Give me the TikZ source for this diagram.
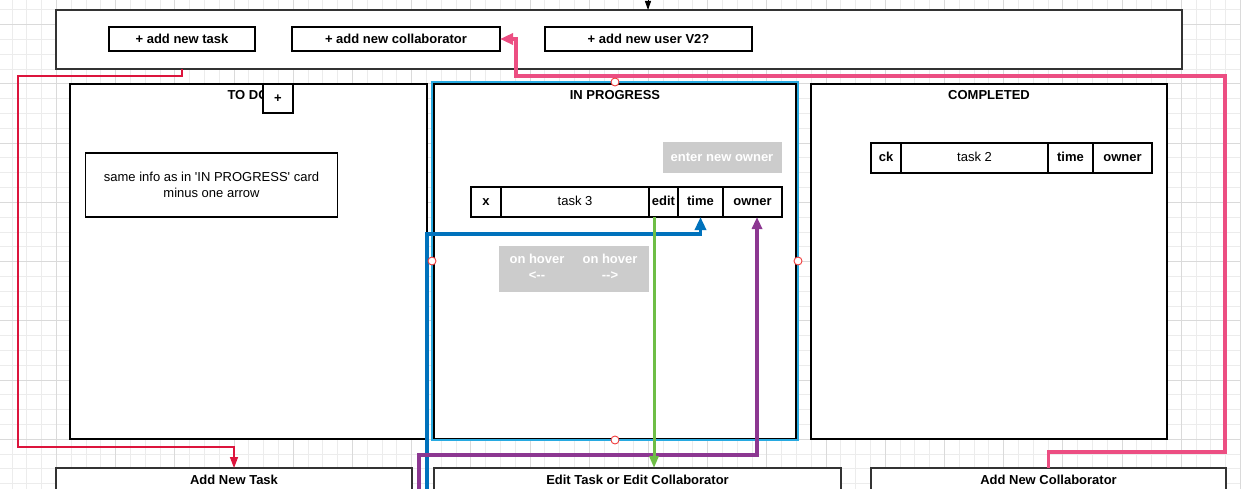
\documentclass[tikz,border=0pt]{standalone}
\usepackage{fontspec}
\setmainfont{Liberation Sans}[Ligatures=TeXOff]
\usetikzlibrary{arrows.meta}

\definecolor{gridminor}{RGB}{236,236,236}
\definecolor{gridmajor}{RGB}{218,218,218}
\definecolor{linkred}{RGB}{220,20,60}
\definecolor{linkpink}{RGB}{236,78,130}
\definecolor{selblue}{RGB}{40,170,225}
\definecolor{linkblue}{RGB}{0,114,188}
\definecolor{linkgreen}{RGB}{110,190,70}
\definecolor{linkpurple}{RGB}{140,55,145}
\definecolor{hintgray}{RGB}{204,204,204}
\definecolor{handlered}{RGB}{240,60,60}
\definecolor{framegray}{RGB}{51,51,51}

\newcommand{\boardfont}{\fontsize{13}{16}\selectfont}

\begin{document}
\begin{tikzpicture}[x=1pt, y=-1pt,
  panel/.style={draw=black, line width=1.6pt, fill=white, inner sep=0pt, outer sep=0pt},
  cell/.style={panel, font=\boardfont\bfseries, text height=9.5pt, text depth=2.5pt, minimum height=30pt, anchor=west},
  title/.style={font=\boardfont\bfseries, inner sep=0pt},
  hint/.style={fill=hintgray, inner sep=0pt},
  hinttext/.style={font=\boardfont\bfseries, text=white, inner sep=0pt, align=center},
  handle/.style={draw=handlered, fill=white, line width=0.9pt},
  redlink/.style={draw=linkred, line width=1.4pt, -{Triangle[length=11pt,width=8pt]}},
  pinklink/.style={draw=linkpink, line width=3.2pt, -{Triangle[length=13pt,width=11pt]}},
  bluelink/.style={draw=linkblue, line width=3.2pt, -{Triangle[length=13pt,width=11pt]}},
  greenlink/.style={draw=linkgreen, line width=3pt, -{Triangle[length=12pt,width=9pt]}},
  purplelink/.style={draw=linkpurple, line width=3.2pt, -{Triangle[length=12pt,width=10pt]}}]
\useasboundingbox (0,0) rectangle (1241,489);
\clip (0,0) rectangle (1241,489);

% grid
\fill[white] (0,0) rectangle (1241,489);
\foreach \gx in {0,...,83} \draw[gridminor, line width=1pt] ({12+14.8*\gx},0) -- ++(0,489);
\foreach \gy in {-1,...,33} \draw[gridminor, line width=1pt] (0,{10+14.8*\gy}) -- ++(1241,0);
\foreach \gx in {0,...,20} \draw[gridmajor, line width=1pt] ({56.4+59.2*\gx},0) -- ++(0,489);
\foreach \gy in {0,...,8} \draw[gridmajor, line width=1pt] (0,{24.8+59.2*\gy}) -- ++(1241,0);

% toolbar
\node[panel, draw=framegray, minimum width=1126pt, minimum height=59pt] (toolbar) at (619,39.5) {};
\node[panel, font=\boardfont\bfseries, minimum width=146pt, minimum height=24pt] (addtask) at (182,39) {+ add new task};
\node[panel, font=\boardfont\bfseries, minimum width=208pt, minimum height=24pt] (addcollab) at (396,39) {+ add new collaborator};
\node[panel, font=\boardfont\bfseries, minimum width=207pt, minimum height=24pt] (adduser) at (648.5,39) {+ add new user V2?};

% columns
\node[panel, minimum width=357pt, minimum height=355pt] (todo) at (248.5,261.5) {};
\node[panel, minimum width=362pt, minimum height=355pt] (progress) at (615,261.5) {};
\node[panel, minimum width=356pt, minimum height=355pt] (completed) at (989,261.5) {};
\node[draw=selblue, line width=2.2pt, minimum width=366pt, minimum height=358pt, inner sep=0pt, outer sep=0pt] (progsel) at (615,261) {};

\node[title] (todotitle) at (248,95) {TO DO};
\node[title] (progresstitle) at (615,95) {IN PROGRESS};
\node[title] (completedtitle) at (989,95) {COMPLETED};
\node[panel, font=\boardfont\bfseries, minimum width=30pt, minimum height=29pt] (todoplus) at (278,98.5) {+};

% to do card
\node[panel, font=\boardfont, align=center, minimum width=252pt, minimum height=64pt] (todonote) at (211.5,185) {same info as in 'IN PROGRESS' card\\minus one arrow};

% in progress card
\node[hint, minimum width=119pt, minimum height=31pt] (ownerhint) at (722,157.5) {};
\node[hinttext] (ownerhinttext) at (722,157) {enter new owner};
\node[cell, minimum width=30pt] (xcell) at (471,202) {x};
\node[cell, minimum width=148pt, font=\boardfont] (task3) at (xcell.east) {task 3};
\node[cell, minimum width=29pt] (edit) at (task3.east) {edit};
\node[cell, minimum width=45pt] (time) at (edit.east) {time};
\node[cell, minimum width=59pt] (owner) at (time.east) {owner};
\node[hint, minimum width=150pt, minimum height=46pt] (hover) at (574,269) {};
\node[hinttext] (hoverleft) at (537,266.5) {on hover\\<--};
\node[hinttext] (hoverright) at (610,266.5) {on hover\\-->};

% completed card
\node[cell, minimum width=30pt] (ckcell) at (871,158) {ck};
\node[cell, minimum width=147pt, font=\boardfont] (task2) at (ckcell.east) {task 2};
\node[cell, minimum width=45pt] (donetime) at (task2.east) {time};
\node[cell, minimum width=59pt] (doneowner) at (donetime.east) {owner};

% bottom panels
\node[panel, draw=framegray, minimum width=356pt, minimum height=40pt, anchor=north] (newtask) at (234,468) {};
\node[panel, draw=framegray, minimum width=407pt, minimum height=40pt, anchor=north] (edittask) at (637.5,468) {};
\node[panel, draw=framegray, minimum width=355pt, minimum height=40pt, anchor=north] (newcollab) at (1048.5,468) {};
\node[title] (newtasktitle) at (234,480) {Add New Task};
\node[title] (edittasktitle) at (637.5,480) {Edit Task or Edit Collaborator};
\node[title] (newcollabtitle) at (1048.5,480) {Add New Collaborator};

% connectors
\coordinate (topfeed) at (648,-6);
\coordinate (bluefoot) at (427,495);
\coordinate (purplefoot) at (419,495);
\coordinate (greenstart) at ([xshift=5pt]edit.south west);
\coordinate (purpletip) at ([xshift=4.5pt]owner.south);

\draw[-{Triangle[length=9pt,width=6pt]}, line width=1pt] (topfeed) -- (topfeed |- toolbar.north);
\draw[redlink] (addtask |- toolbar.south) -- ++(0,7) -| (18,447) -| (newtask.north);
\draw[pinklink] (newcollab.north) |- (1225,452) |- (516,76) |- (addcollab.east);
\draw[bluelink] (bluefoot) -- (427,234) -| (time.south);
\draw[purplelink] (purplefoot) -- (419,455) -| (purpletip);
\draw[greenlink] (greenstart) -- (greenstart |- edittask.north);

% handles
\draw[handle] (progsel.north) circle (4pt);
\draw[handle] (progsel.south) circle (4pt);
\draw[handle] (progsel.west) circle (4pt);
\draw[handle] (progsel.east) circle (4pt);

\end{tikzpicture}
\end{document}
